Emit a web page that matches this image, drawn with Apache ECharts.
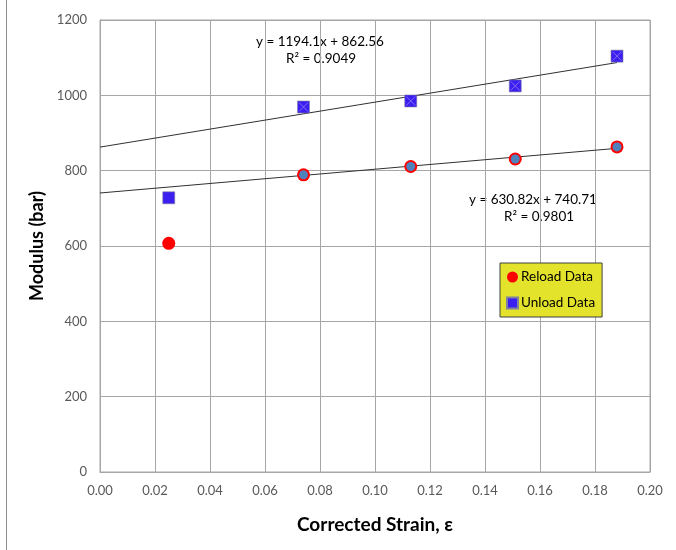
<!DOCTYPE html>
<html>
<head>
<meta charset="utf-8">
<script src="https://cdn.jsdelivr.net/npm/echarts@6/dist/echarts.min.js"></script>
<style>html,body{margin:0;padding:0;background:#fff}#c{width:676px;height:550px}</style>
</head>
<body>
<div id="c"></div>
<script>
// Data
var strain = [0.025, 0.074, 0.113, 0.151, 0.188];
var reloadModulus = [607, 789, 811, 831, 863];
var unloadModulus = [728, 969, 985, 1025, 1104];
var reloadTrend = [[0, 740.71], [0.188, 859.3]];
var unloadTrend = [[0, 862.56], [0.188, 1087.0]];
var reloadEq = ['y = 630.82x + 740.71', 'R² = 0.9801'];
var unloadEq = ['y = 1194.1x + 862.56', 'R² = 0.9049'];
var xTicks = ['0.00','0.02','0.04','0.06','0.08','0.10','0.12','0.14','0.16','0.18','0.20'];

function pairs(xs, ys, from) {
  var out = [];
  for (var i = from || 0; i < xs.length; i++) out.push([xs[i], ys[i]]);
  return out;
}

var font = 'Lato, "Liberation Sans", sans-serif';
var chart = echarts.init(document.getElementById('c'));
var xPath = 'path://M0,0 L10,10 M10,0 L0,10';

chart.setOption({
  animation: false,
  grid: { left: 100, right: 26, top: 20, bottom: 78, show: true, borderColor: '#a6a6a6', borderWidth: 1 },
  xAxis: {
    type: 'value', min: 0, max: 0.2, interval: 0.02,
    axisLine: { show: true, lineStyle: { color: '#a6a6a6' } },
    axisTick: { show: false },
    splitLine: { show: true, lineStyle: { color: '#a6a6a6', width: 1 } },
    axisLabel: { color: '#595959', fontFamily: font, fontSize: 13, margin: 12,
      formatter: function (v) { return xTicks[Math.round(v / 0.02)]; } },
    name: 'Corrected Strain, ε', nameLocation: 'middle', nameGap: 43,
    nameTextStyle: { color: '#000', fontFamily: font, fontSize: 19, fontWeight: 'bold' }
  },
  yAxis: {
    type: 'value', min: 0, max: 1200, interval: 200,
    axisLine: { show: true, lineStyle: { color: '#a6a6a6' } },
    axisTick: { show: false },
    splitLine: { show: true, lineStyle: { color: '#a6a6a6', width: 1 } },
    axisLabel: { color: '#595959', fontFamily: font, fontSize: 13, margin: 13,
      formatter: function (v) { return String(v); } },
    name: 'Modulus (bar)', nameLocation: 'middle', nameGap: 52,
    nameTextStyle: { color: '#000', fontFamily: font, fontSize: 18, fontWeight: 'bold' }
  },
  legend: {
    orient: 'vertical', left: 500, top: 263,
    backgroundColor: '#e3e32b', borderColor: '#404040', borderWidth: 1,
    padding: [7, 7, 7, 6], itemGap: 12, itemWidth: 11, itemHeight: 11,
    textStyle: { color: '#000', fontFamily: font, fontSize: 13.5, padding: [0, 0, 0, -2] },
    data: [{ name: 'Reload Data', icon: 'circle' }, { name: 'Unload Data', icon: 'rect' }]
  },
  series: [
    { name: 'reloadTrend', type: 'line', data: reloadTrend, symbol: 'none',
      lineStyle: { color: '#303030', width: 1 }, z: 2, silent: true },
    { name: 'unloadTrend', type: 'line', data: unloadTrend, symbol: 'none',
      lineStyle: { color: '#303030', width: 1 }, z: 2, silent: true },
    { name: 'Reload Data', type: 'scatter', data: pairs(strain, reloadModulus), symbol: 'circle', symbolSize: 13,
      itemStyle: { color: '#ff0000', opacity: 1 }, z: 3 },
    { name: 'Unload Data', type: 'scatter', data: pairs(strain, unloadModulus), symbol: 'rect', symbolSize: 12,
      itemStyle: { color: '#3b1ff0', borderColor: '#8080a0', borderWidth: 0.6, opacity: 1 }, z: 3 },
    { name: 'reloadFit', type: 'scatter', data: pairs(strain, reloadModulus, 1), symbol: 'circle', symbolSize: 9,
      itemStyle: { color: '#4f81bd', opacity: 1 }, z: 4, silent: true },
    { name: 'unloadFit', type: 'scatter', data: pairs(strain, unloadModulus, 1), symbol: xPath, symbolSize: 9,
      itemStyle: { color: 'none', borderColor: '#8a6cf5', borderWidth: 1, opacity: 1 }, z: 4, silent: true }
  ],
  graphic: [
    { type: 'text', left: 256, top: 35, style: { text: unloadEq[0], fill: '#000', font: '13.5px ' + font } },
    { type: 'text', left: 286, top: 52, style: { text: unloadEq[1], fill: '#000', font: '13.5px ' + font } },
    { type: 'text', left: 469, top: 193, style: { text: reloadEq[0], fill: '#000', font: '13.5px ' + font } },
    { type: 'text', left: 504, top: 210, style: { text: reloadEq[1], fill: '#000', font: '13.5px ' + font } },
    { type: 'line', shape: { x1: 6.5, y1: 0, x2: 6.5, y2: 550 }, style: { stroke: '#8c8c8c', lineWidth: 1 } }
  ]
});
</script>
</body>
</html>
